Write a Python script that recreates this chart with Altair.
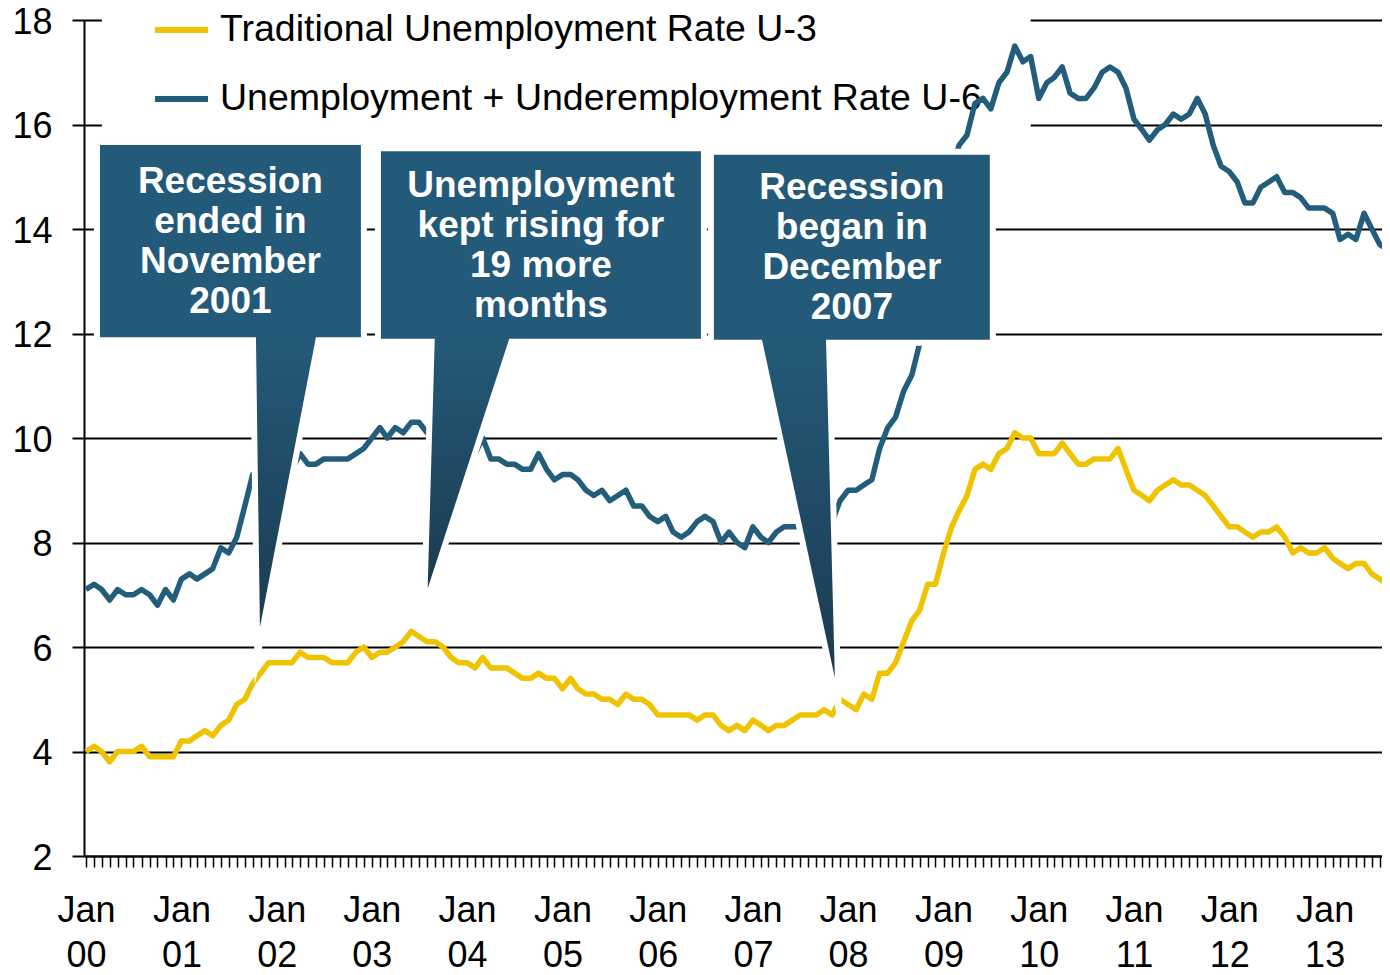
import altair as alt
import pandas as pd

# ---------------- data ----------------
first_month = "2000-01-01"
n_months = 165  # Jan 2000 .. Sep 2013

u3 = [
    4.0, 4.1, 4.0, 3.8, 4.0, 4.0, 4.0, 4.1, 3.9, 3.9, 3.9, 3.9,   # 2000
    4.2, 4.2, 4.3, 4.4, 4.3, 4.5, 4.6, 4.9, 5.0, 5.3, 5.5, 5.7,   # 2001
    5.7, 5.7, 5.7, 5.9, 5.8, 5.8, 5.8, 5.7, 5.7, 5.7, 5.9, 6.0,   # 2002
    5.8, 5.9, 5.9, 6.0, 6.1, 6.3, 6.2, 6.1, 6.1, 6.0, 5.8, 5.7,   # 2003
    5.7, 5.6, 5.8, 5.6, 5.6, 5.6, 5.5, 5.4, 5.4, 5.5, 5.4, 5.4,   # 2004
    5.2, 5.4, 5.2, 5.1, 5.1, 5.0, 5.0, 4.9, 5.1, 5.0, 5.0, 4.9,   # 2005
    4.7, 4.7, 4.7, 4.7, 4.7, 4.6, 4.7, 4.7, 4.5, 4.4, 4.5, 4.4,   # 2006
    4.6, 4.5, 4.4, 4.5, 4.5, 4.6, 4.7, 4.7, 4.7, 4.8, 4.7, 5.0,   # 2007
    4.9, 4.8, 5.1, 5.0, 5.5, 5.5, 5.7, 6.1, 6.5, 6.7, 7.2, 7.2,   # 2008
    7.8, 8.3, 8.6, 8.9, 9.4, 9.5, 9.4, 9.7, 9.8, 10.1, 10.0, 10.0,  # 2009
    9.7, 9.7, 9.7, 9.9, 9.7, 9.5, 9.5, 9.6, 9.6, 9.6, 9.8, 9.4,   # 2010
    9.0, 8.9, 8.8, 9.0, 9.1, 9.2, 9.1, 9.1, 9.0, 8.9, 8.7, 8.5,   # 2011
    8.3, 8.3, 8.2, 8.1, 8.2, 8.2, 8.3, 8.1, 7.8, 7.9, 7.8, 7.8,   # 2012
    7.9, 7.7, 7.6, 7.5, 7.6, 7.6, 7.4, 7.3, 7.2,                  # 2013
]

u6 = [
    7.1, 7.2, 7.1, 6.9, 7.1, 7.0, 7.0, 7.1, 7.0, 6.8, 7.1, 6.9,   # 2000
    7.3, 7.4, 7.3, 7.4, 7.5, 7.9, 7.8, 8.1, 8.7, 9.3, 9.4, 9.6,   # 2001
    9.5, 9.5, 9.4, 9.7, 9.5, 9.5, 9.6, 9.6, 9.6, 9.6, 9.7, 9.8,   # 2002
    10.0, 10.2, 10.0, 10.2, 10.1, 10.3, 10.3, 10.1, 10.4, 10.2, 10.0, 9.8,  # 2003
    9.9, 9.7, 10.0, 9.6, 9.6, 9.5, 9.5, 9.4, 9.4, 9.7, 9.4, 9.2,  # 2004
    9.3, 9.3, 9.2, 9.0, 8.9, 9.0, 8.8, 8.9, 9.0, 8.7, 8.7, 8.5,   # 2005
    8.4, 8.5, 8.2, 8.1, 8.2, 8.4, 8.5, 8.4, 8.0, 8.2, 8.0, 7.9,   # 2006
    8.3, 8.1, 8.0, 8.2, 8.3, 8.3, 8.3, 8.4, 8.4, 8.4, 8.4, 8.8,   # 2007
    9.0, 9.0, 9.1, 9.2, 9.8, 10.2, 10.4, 10.9, 11.2, 11.8, 12.6, 13.5,  # 2008
    14.0, 15.1, 15.6, 15.8, 16.4, 16.5, 16.3, 16.8, 17.0, 17.5, 17.2, 17.3,  # 2009
    16.5, 16.8, 16.9, 17.1, 16.6, 16.5, 16.5, 16.7, 17.0, 17.1, 17.0, 16.7,  # 2010
    16.1, 15.9, 15.7, 15.9, 16.0, 16.2, 16.1, 16.2, 16.5, 16.2, 15.6, 15.2,  # 2011
    15.1, 14.9, 14.5, 14.5, 14.8, 14.9, 15.0, 14.7, 14.7, 14.6, 14.4, 14.4,  # 2012
    14.4, 14.3, 13.8, 13.9, 13.8, 14.3, 14.0, 13.7, 13.6,                    # 2013
]

series_names = [
    "Traditional Unemployment Rate U-3",
    "Unemployment + Underemployment Rate U-6",
]
y_ticks = [2, 4, 6, 8, 10, 12, 14, 16, 18]

callout_texts = [
    ["Recession", "ended in", "November", "2001"],
    ["Unemployment", "kept rising for", "19 more", "months"],
    ["Recession", "began in", "December", "2007"],
]

# ---------------- annotation geometry (month index from Jan 2000, rate) ----------------
box_geo = [
    (1.76, 34.63, 15.61, 11.93),
    (37.15, 77.46, 15.49, 11.90),
    (79.09, 113.85, 15.42, 11.88),
]
pointer_geo = [
    (21.40, 29.09, 21.91, 6.38),
    (43.95, 53.53, 43.04, 7.12),
    (85.01, 93.20, 94.33, 5.41),
]
x_domain_months = (-0.25, 163.25)
legend_bg_geo = (2.0, 119.0, 15.8, 18.3)
legend_line_months = (8.69, 15.37)
legend_text_month = 16.88
legend_rows = [17.81, 16.49]
text_line_step = 0.7656  # 40 px in value units

# ---------------- styles ----------------
series_colors = ["#EFC300", "#235D7C"]
box_color = "#245A79"
tip_color = "#1B3B51"
FONT = "Liberation Sans"

base = pd.Timestamp(first_month, tz="UTC")


def mdate(m):
    return int((base + pd.Timedelta(days=m * 30.4375)).value // 10**6)


months = pd.date_range(first_month, periods=n_months, freq="MS", tz="UTC")
month_ms = (months.asi8 // 10**6).tolist()

df = pd.DataFrame({
    "date": month_ms * 2,
    "rate": u3 + u6,
    "series": [series_names[0]] * n_months + [series_names[1]] * n_months,
})

xs = alt.Scale(type="utc", domain=[mdate(x_domain_months[0]), mdate(x_domain_months[1])])
ys = alt.Scale(domain=[2, 18], nice=False, zero=False)
cs = alt.Scale(domain=series_names, range=series_colors)

x_axis = alt.Axis(
    values=month_ms,
    labelExpr="utcmonth(datum.value) == 0 ? ['Jan', utcFormat(datum.value, '%y')] : ''",
    tickSize=11, tickWidth=1.5, tickColor="black",
    domainColor="black", domainWidth=2, grid=False,
    labelFont=FONT, labelFontSize=36, labelColor="black",
    labelLineHeight=45, labelBaseline="top", labelPadding=26,
    labelOverlap=False, labelFlush=False, title=None,
)
y_axis = alt.Axis(
    values=y_ticks, tickSize=12, tickWidth=2, tickColor="black",
    domainColor="black", domainWidth=2,
    grid=True, gridColor="black", gridWidth=2, gridOpacity=1,
    labelFont=FONT, labelFontSize=36, labelColor="black", labelPadding=20,
    labelOffset=2, labelFlush=False, title=None,
)


def X(field):
    return alt.X(field, scale=xs, axis=x_axis)


def Y(field):
    return alt.Y(field, scale=ys, axis=y_axis, stack=None)


lines = alt.Chart(df).mark_line(strokeWidth=5.5, strokeJoin="round", clip=True).encode(
    x=X("date:T"),
    y=Y("rate:Q"),
    color=alt.Color("series:N", scale=cs, legend=None),
)

# legend white background
lbg = pd.DataFrame({"x": [mdate(legend_bg_geo[0])], "x2": [mdate(legend_bg_geo[1])],
                    "y": [legend_bg_geo[2]], "y2": [legend_bg_geo[3]]})
legend_bg = alt.Chart(lbg).mark_rect(color="white").encode(
    x=X("x:T"), x2="x2:T", y=Y("y:Q"), y2="y2:Q",
)

leg_df = pd.DataFrame({
    "series": series_names,
    "x": [mdate(legend_line_months[0])] * 2,
    "x2": [mdate(legend_line_months[1])] * 2,
    "xt": [mdate(legend_text_month)] * 2,
    "y": legend_rows,
})
leg_rule = alt.Chart(leg_df).mark_rule(strokeWidth=6).encode(
    x=X("x:T"), x2="x2:T", y=Y("y:Q"),
    color=alt.Color("series:N", scale=cs, legend=None),
)
leg_text = alt.Chart(leg_df).mark_text(
    align="left", baseline="middle", font=FONT, fontSize=37.5, color="black"
).encode(x=X("xt:T"), y=Y("y:Q"), text="series:N")

# boxes
box_df = pd.DataFrame({
    "x": [mdate(b[0]) for b in box_geo],
    "x2": [mdate(b[1]) for b in box_geo],
    "y": [b[2] for b in box_geo],
    "y2": [b[3] for b in box_geo],
})
box_halo = alt.Chart(box_df).mark_rect(fill="white", stroke="white", strokeWidth=12).encode(
    x=X("x:T"), x2="x2:T", y=Y("y:Q"), y2="y2:Q")
box_fill = alt.Chart(box_df).mark_rect(color=box_color).encode(
    x=X("x:T"), x2="x2:T", y=Y("y:Q"), y2="y2:Q")

# pointers (triangles drawn as horizontal areas)
prow = []
for i, (pl, pr, pt, pv) in enumerate(pointer_geo):
    vb = box_geo[i][3] + 0.1
    prow.append({"pid": i, "v": vb, "xl": mdate(pl), "xr": mdate(pr)})
    prow.append({"pid": i, "v": pv, "xl": mdate(pt), "xr": mdate(pt)})
ptr_df = pd.DataFrame(prow)

ptr_halo = alt.Chart(ptr_df).mark_area(
    orient="horizontal", fill="white", stroke="white", strokeWidth=12,
    strokeJoin="miter", strokeMiterLimit=12,
).encode(y=Y("v:Q"), x=X("xl:T"), x2="xr:T", detail="pid:N")
gradient = {
    "gradient": "linear", "x1": 0, "x2": 0, "y1": 0, "y2": 1,
    "stops": [{"offset": 0, "color": box_color}, {"offset": 1, "color": tip_color}],
}
ptr_fill = alt.Chart(ptr_df).mark_area(orient="horizontal", color=gradient).encode(
    y=Y("v:Q"), x=X("xl:T"), x2="xr:T", detail="pid:N")

# callout texts
trow = []
for (bl, br, bt, bb), lines_txt in zip(box_geo, callout_texts):
    cx = (bl + br) / 2
    cv = (bt + bb) / 2 - 0.019
    for j, t in enumerate(lines_txt):
        trow.append({"x": mdate(cx), "y": cv + (1.5 - j) * text_line_step, "text": t})
txt_df = pd.DataFrame(trow)
box_text = alt.Chart(txt_df).mark_text(
    align="center", baseline="middle", font=FONT, fontSize=37, fontWeight="bold", color="white"
).encode(x=X("x:T"), y=Y("y:Q"), text="text:N")

chart = alt.layer(
    legend_bg, leg_rule, leg_text, lines, box_halo, ptr_halo, box_fill, ptr_fill, box_text
).properties(
    width=1298, height=836,
    padding={"left": 76, "top": 12, "right": 0, "bottom": 119},
    autosize=alt.AutoSizeParams(type="none"),
).configure_view(stroke=None)

chart.save("out.html", embed_options={"renderer": "svg", "actions": False})
